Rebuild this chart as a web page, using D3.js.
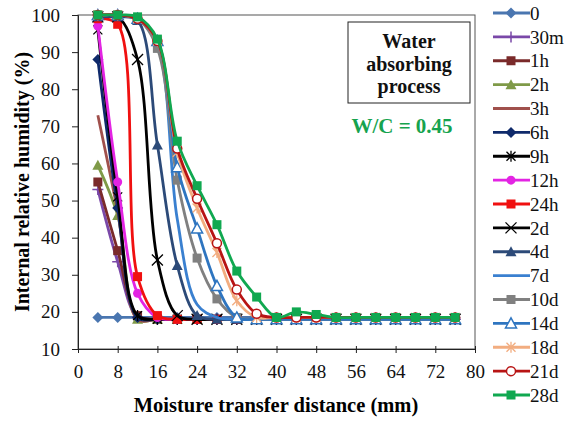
<!DOCTYPE html>
<html>
<head>
<meta charset="utf-8">
<script src="https://cdn.jsdelivr.net/npm/d3@7"></script>
<style>
  body { margin: 0; background: #fff; }
  svg { display: block; }
</style>
</head>
<body>
<div id="chart"></div>
<script>
// distances (mm) where humidity was measured
const dist = [4, 8, 12, 16, 20, 24, 28, 32, 36, 40, 44, 48, 52, 56, 60, 64, 68, 72, 76];

// internal relative humidity (%) per exposure time
const rh0   = [18.5, 18.5, 18.5, 18.5, 18.5, 18.5, 18.5, 18.5, 18.5, 18.5, 18.5, 18.5, 18.5, 18.5, 18.5, 18.5, 18.5, 18.5, 18.5];
const rh30m = [53, 33.5, 18.5, 18, 18, 18, 18, 18, 18, 18, 18, 18, 18, 18, 18, 18, 18, 18, 18];
const rh1h  = [55, 36.5, 19, 18, 18, 18, 18, 18, 18, 18, 18, 18, 18, 18, 18, 18, 18, 18, 18];
const rh2h  = [59.5, 46, 18, 18, 18, 18, 18, 18, 18, 18, 18, 18, 18, 18, 18, 18, 18, 18, 18];
const rh3h  = [73, 47, 18, 18, 18, 18, 18, 18, 18, 18, 18, 18, 18, 18, 18, 18, 18, 18, 18];
const rh6h  = [88, 48, 18.5, 18, 18, 18, 18, 18, 18, 18, 18, 18, 18, 18, 18, 18, 18, 18, 18];
const rh9h  = [96, 51, 19, 18, 18, 18, 18, 18, 18, 18, 18, 18, 18, 18, 18, 18, 18, 18, 18];
const rh12h = [97, 55, 25, 18.5, 18, 18, 18, 18, 18, 18, 18, 18, 18, 18, 18, 18, 18, 18, 18];
const rh24h = [99, 97.5, 29.5, 19, 18, 18, 18, 18, 18, 18, 18, 18, 18, 18, 18, 18, 18, 18, 18];
const rh2d  = [99.5, 99.5, 88, 34, 19, 18, 18, 18, 18, 18, 18, 18, 18, 18, 18, 18, 18, 18, 18];
const rh4d  = [99.5, 99.5, 98.5, 65, 32.5, 19, 18, 18, 18, 18, 18, 18, 18, 18, 18, 18, 18, 18, 18];
const rh7d  = [100, 100, 99, 92, 45, 22, 18.5, 18, 18, 18, 18, 18, 18, 18, 18, 18, 18, 18, 18];
const rh10d = [100, 100, 99, 91, 55.5, 34.5, 23.5, 18.5, 18, 18, 18, 18, 18, 18, 18, 18, 18, 18, 18];
const rh14d = [100, 100, 99, 93, 59, 42.5, 27, 18.5, 18, 18, 18, 18, 18, 18, 18, 18, 18, 18, 18];
const rh18d = [100, 100, 99, 93, 63, 48, 36, 23, 18.5, 18.5, 18.5, 18.5, 18.5, 18.5, 18.5, 18.5, 18.5, 18.5, 18.5];
const rh21d = [100, 100, 99, 93, 64, 50.5, 38.5, 26, 19.5, 18.5, 18.5, 18.5, 18.5, 18.5, 18.5, 18.5, 18.5, 18.5, 18.5];
const rh28d = [100, 100, 99.5, 93.5, 66, 54, 43.5, 31, 24, 18.5, 20, 19.3, 18.5, 18.5, 18.5, 18.5, 18.5, 18.5, 18.5];

const names = ["0", "30m", "1h", "2h", "3h", "6h", "9h", "12h", "24h", "2d", "4d", "7d", "10d", "14d", "18d", "21d", "28d"];
const values = [rh0, rh30m, rh1h, rh2h, rh3h, rh6h, rh9h, rh12h, rh24h, rh2d, rh4d, rh7d, rh10d, rh14d, rh18d, rh21d, rh28d];

const xTicks = [0, 8, 16, 24, 32, 40, 48, 56, 64, 72, 80];
const yTicks = [10, 20, 30, 40, 50, 60, 70, 80, 90, 100];

// look of each series (same order as names)
const colors = ["#4a76b0", "#7a48a8", "#7a2a2a", "#7f9a48", "#a0504c", "#0f2a6b", "#000000", "#e324e3",
                "#f01010", "#000000", "#2c4a78", "#3a80d0", "#808080", "#2e75c0", "#f2ad80", "#b81414", "#10a850"];
const markers = ["diamond", "plus", "square", "triangle", "none", "diamond", "star", "circle",
                 "square", "cross", "triangle", "none", "square", "otriangle", "star", "ocircle", "square"];

const width = 571, height = 424;
const margin = {top: 15, right: 96, bottom: 75, left: 78};
const serif = '"Liberation Serif", "Times New Roman"';

const x = d3.scaleLinear().domain([0, 80]).range([margin.left, width - margin.right]);
const y = d3.scaleLinear().domain([10, 100]).range([height - margin.bottom, margin.top]);

const svg = d3.select("#chart").append("svg")
    .attr("width", width)
    .attr("height", height);

// frame
svg.append("rect")
    .attr("x", x(0)).attr("y", y(100))
    .attr("width", x(80) - x(0)).attr("height", y(10) - y(100))
    .attr("fill", "none").attr("stroke", "#555").attr("stroke-width", 1);

svg.append("g")
    .attr("transform", `translate(0,${y(10)})`)
    .call(d3.axisBottom(x).tickValues(xTicks).tickSize(4).tickPadding(12))
    .call(g => g.select(".domain").attr("stroke", "#222"))
    .call(g => g.selectAll(".tick line").attr("stroke", "#222").attr("y1", -3))
    .call(g => g.selectAll("text").attr("font-size", 19).attr("fill", "#111"));

svg.append("g")
    .attr("transform", `translate(${x(0)},0)`)
    .call(d3.axisLeft(y).tickValues(yTicks).tickSize(6).tickPadding(12))
    .call(g => g.select(".domain").attr("stroke", "#222"))
    .call(g => g.selectAll(".tick line").attr("stroke", "#222"))
    .call(g => g.selectAll("text").attr("font-size", 19).attr("fill", "#111"));

// axis titles
svg.append("text")
    .attr("x", 276).attr("y", 412)
    .attr("text-anchor", "middle")
    .attr("font-size", 20.5).attr("font-weight", "bold")
    .text("Moisture transfer distance (mm)");

svg.append("text")
    .attr("transform", `translate(29,${(y(10) + y(100)) / 2}) rotate(-90)`)
    .attr("text-anchor", "middle")
    .attr("font-size", 20).attr("font-weight", "bold")
    .text("Internal  relative  humidity  (%)");

// marker drawing
function marker(sel, type, color) {
  const s = 4.5;
  if (type === "diamond") {
    sel.append("path").attr("d", `M0,${-s - 1}L${s + 1},0L0,${s + 1}L${-s - 1},0Z`).attr("fill", color);
  } else if (type === "square") {
    sel.append("rect").attr("x", -s).attr("y", -s).attr("width", 2 * s).attr("height", 2 * s).attr("fill", color);
  } else if (type === "triangle" || type === "otriangle") {
    sel.append("path").attr("d", `M0,${-s - 1}L${s + 1},${s}L${-s - 1},${s}Z`)
      .attr("fill", type === "triangle" ? color : "#fff")
      .attr("stroke", color).attr("stroke-width", type === "triangle" ? 0 : 1.5);
  } else if (type === "circle" || type === "ocircle") {
    sel.append("circle").attr("r", s)
      .attr("fill", type === "circle" ? color : "#fff")
      .attr("stroke", color).attr("stroke-width", type === "circle" ? 0 : 1.5);
  } else if (type === "plus") {
    sel.append("path").attr("d", `M${-s - 1},0H${s + 1}M0,${-s - 1}V${s + 1}`).attr("stroke", color).attr("stroke-width", 1.5);
  } else if (type === "cross") {
    sel.append("path").attr("d", `M${-s - 1},${-s - 1}L${s + 1},${s + 1}M${s + 1},${-s - 1}L${-s - 1},${s + 1}`)
      .attr("stroke", color).attr("stroke-width", 1.3);
  } else if (type === "star") {
    sel.append("path").attr("d", `M${-s},${-s}L${s},${s}M${s},${-s}L${-s},${s}M0,${-s - 1}V${s + 1}`)
      .attr("stroke", color).attr("stroke-width", 1.3);
  }
}

const line = d3.line()
    .x((d, i) => x(dist[i]))
    .y(d => y(d))
    .curve(d3.curveCatmullRom.alpha(0.5));

const plot = svg.append("g");

names.forEach((name, k) => {
  const g = plot.append("g");
  g.append("path")
      .attr("d", line(values[k]))
      .attr("fill", "none")
      .attr("stroke", colors[k])
      .attr("stroke-width", 2.8);
  if (markers[k] !== "none") {
    values[k].forEach((v, i) => {
      const m = g.append("g").attr("transform", `translate(${x(dist[i])},${y(v)})`);
      marker(m, markers[k], colors[k]);
    });
  }
});

// legend
const legend = svg.append("g").attr("font-size", 19);
names.forEach((name, k) => {
  const ly = 13 + k * 23.875;
  const row = legend.append("g").attr("transform", `translate(0,${ly})`);
  row.append("line")
      .attr("x1", 493).attr("x2", 530)
      .attr("stroke", colors[k]).attr("stroke-width", 2.8);
  if (markers[k] !== "none") marker(row.append("g").attr("transform", "translate(511,0)"), markers[k], colors[k]);
  row.append("text")
      .attr("x", 530).attr("dy", "0.35em")
      .attr("fill", "#111")
      .text(name);
});

// annotation box
svg.append("rect")
    .attr("x", 348).attr("y", 22)
    .attr("width", 122).attr("height", 81)
    .attr("fill", "#fff").attr("stroke", "#222").attr("stroke-width", 1);

const note = svg.append("text")
    .attr("text-anchor", "middle")
    .attr("font-size", 20).attr("font-weight", "bold").attr("fill", "#111");
note.append("tspan").attr("x", 409).attr("y", 48).text("Water");
note.append("tspan").attr("x", 409).attr("y", 71).text("absorbing");
note.append("tspan").attr("x", 409).attr("y", 93).text("process");

svg.append("text")
    .attr("x", 402).attr("y", 133)
    .attr("text-anchor", "middle")
    .attr("font-size", 21).attr("font-weight", "bold")
    .attr("fill", "#16a34e")
    .text("W/C = 0.45");

// serif everywhere, set on each text node
svg.selectAll("text").style("font-family", serif);
</script>
</body>
</html>
